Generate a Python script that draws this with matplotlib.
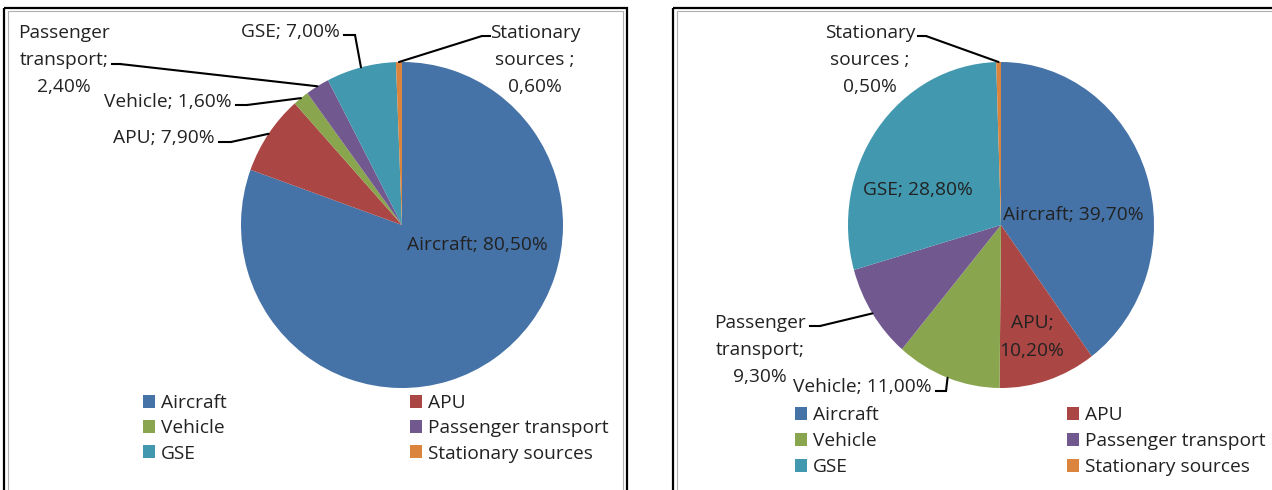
import matplotlib
matplotlib.use("Agg")
import matplotlib.pyplot as plt
import numpy as np
from matplotlib.transforms import Affine2D
from matplotlib.patches import Patch, Rectangle
from matplotlib.lines import Line2D

# ---------------- data ----------------
categories = ["Aircraft", "APU", "Vehicle", "Passenger transport", "GSE", "Stationary sources"]
values_left = [80.5, 7.9, 1.6, 2.4, 7.0, 0.6]
values_right = [39.7, 10.2, 11.0, 9.3, 28.8, 0.5]
colors = ["#4572A7", "#AA4643", "#89A54E", "#71588F", "#4198AF", "#DB843D"]

# label templates ({v} -> value text)
templates_left = {
    "Aircraft": "Aircraft; {v}",
    "APU": "APU; {v}",
    "Vehicle": "Vehicle; {v}",
    "Passenger transport": "Passenger\ntransport;\n{v}",
    "GSE": "GSE; {v}",
    "Stationary sources": "Stationary\nsources ;\n{v}",
}
templates_right = {
    "Aircraft": "Aircraft; {v}",
    "APU": "APU;\n{v}",
    "Vehicle": "Vehicle; {v}",
    "Passenger transport": "Passenger\ntransport;\n{v}",
    "GSE": "GSE; {v}",
    "Stationary sources": "Stationary\nsources ;\n{v}",
}

# ---------------- layout (pixels) ----------------
W, H, DPI = 1272, 490, 100
plt.rcParams["font.family"] = ["Open Sans", "DejaVu Sans"]
FS = 13.8
TXT = "#222222"

fig = plt.figure(figsize=(W / DPI, H / DPI), dpi=DPI)
fig.patch.set_facecolor("white")
pix = Affine2D().scale(1.0 / W, -1.0 / H).translate(0, 1) + fig.transFigure

# label layout: pos, ha, stub (start,end) or None
layout_left = {
    "Aircraft": dict(pos=(477, 245), ha="center", stub=None),
    "APU": dict(pos=(215, 138), ha="right", stub=((219, 142), (231, 142))),
    "Vehicle": dict(pos=(232, 102), ha="right", stub=((236, 105), (247, 105))),
    "Passenger transport": dict(pos=(64, 60), ha="center", stub=((112, 64), (120, 64))),
    "GSE": dict(pos=(340, 32), ha="right", stub=((344, 35), (355, 35))),
    "Stationary sources": dict(pos=(535, 60), ha="center", stub=((490, 36), (482, 36))),
}
layout_right = {
    "Aircraft": dict(pos=(1073, 215), ha="center", stub=None),
    "APU": dict(pos=(1032, 337), ha="center", stub=None),
    "Vehicle": dict(pos=(932, 387), ha="right", stub=((936, 391), (946, 391))),
    "Passenger transport": dict(pos=(760, 350), ha="center", stub=((810, 326), (820, 326))),
    "GSE": dict(pos=(918, 190), ha="center", stub=None),
    "Stationary sources": dict(pos=(870, 60), ha="center", stub=((918, 36), (926, 36))),
}


def fmt(v):
    return ("%.2f%%" % v).replace(".", ",")


def draw_panel(box, pie_center, rx, ry, values, templates, layout, legend_cols, lspace):
    # panel frame
    x0, y0, x1, y1 = box
    fig.add_artist(Rectangle((x0, y0), x1 - x0, y1 - y0, transform=pix, fill=False,
                             edgecolor="black", linewidth=1.6))
    fig.add_artist(Rectangle((x0 + 4, y0 + 3.5), x1 - x0 - 8, y1 - y0 - 7, transform=pix,
                             fill=False, edgecolor="#b0b0b0", linewidth=0.8))
    cx, cy = pie_center
    ax = fig.add_axes([(cx - rx) / W, (H - (cy + ry)) / H, 2 * rx / W, 2 * ry / H])
    wedges, _ = ax.pie(values, colors=colors, startangle=90, counterclock=False,
                       wedgeprops=dict(linewidth=0))
    ax.set_aspect("auto")
    ax.set_xlim(-1, 1)
    ax.set_ylim(-1, 1)
    ax.axis("off")
    for w, name, v in zip(wedges, categories, values):
        lay = layout[name]
        txt = templates[name].format(v=fmt(v))
        fig.text(lay["pos"][0], lay["pos"][1], txt, transform=pix, ha=lay["ha"],
                 va="center", multialignment="center", fontsize=FS, color=TXT,
                 linespacing=1.66)
        if lay["stub"] is not None:
            (sx, sy), (ex, ey) = lay["stub"]
            fig.add_artist(Line2D([sx, ex], [sy, ey], transform=pix, color="black", lw=1.5))
            mid = np.deg2rad((w.theta1 + w.theta2) / 2.0)
            ax.annotate("", xy=(np.cos(mid), np.sin(mid)), xycoords="data",
                        xytext=(ex, ey), textcoords=pix,
                        arrowprops=dict(arrowstyle="-", color="black", lw=1.5,
                                        shrinkA=0, shrinkB=0), annotation_clip=False)
    # legend: two columns
    handles = [Patch(facecolor=c, edgecolor="none") for c in colors]
    legs = []
    for (lx, ly), idx in legend_cols:
        leg = ax.legend([handles[i] for i in idx], [categories[i] for i in idx],
                        loc="upper left", bbox_to_anchor=(lx, ly),
                        bbox_transform=pix, frameon=False, fontsize=FS,
                        handlelength=0.64, handleheight=0.64, handletextpad=0.3,
                        labelspacing=lspace, borderpad=0, borderaxespad=0)
        for t in leg.get_texts():
            t.set_color(TXT)
        legs.append(leg)
    for leg in legs[:-1]:
        ax.add_artist(leg)


draw_panel((4, 8, 627, 520), (402, 225), 161, 163, values_left, templates_left, layout_left,
           [((143, 394), [0, 2, 4]), ((410, 394), [1, 3, 5])], 0.38)
draw_panel((673, 8, 1290, 520), (1001, 225), 153, 163, values_right, templates_right, layout_right,
           [((795, 406), [0, 2, 4]), ((1067, 406), [1, 3, 5])], 0.43)

fig.savefig("out.png", dpi=DPI, facecolor="white")
